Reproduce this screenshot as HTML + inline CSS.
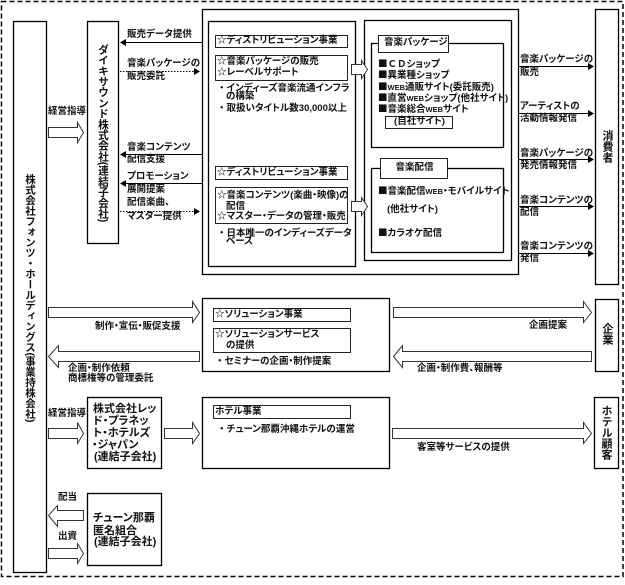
<!DOCTYPE html>
<html><head><meta charset="utf-8">
<style>
html,body{margin:0;padding:0;background:#fff;}
#p{position:relative;width:625px;height:585px;overflow:hidden;background:#fff;}
svg{position:absolute;left:0;top:0;}
.t{position:absolute;white-space:nowrap;font-size:9.5px;line-height:12px;font-family:"Liberation Sans","Noto Sans CJK JP",sans-serif;font-weight:bold;color:#111;font-feature-settings:"palt";}
.b{font-size:11px;}
.n{font-family:"Noto Sans CJK JP",sans-serif;font-feature-settings:normal;}
.w{font-size:7.5px;}
.c{text-align:center;}
.v{position:absolute;writing-mode:vertical-rl;white-space:nowrap;font-family:"Liberation Sans","Noto Sans CJK JP",sans-serif;font-weight:bold;color:#111;line-height:12px;width:12px;}
</style></head><body><div id="p">
<svg width="625" height="585" viewBox="0 0 625 585" xmlns="http://www.w3.org/2000/svg">
<rect x="1.5" y="1.5" width="621.5" height="575" fill="none" stroke="#000" stroke-width="1.5" stroke-dasharray="5 3"/>
<g fill="none" stroke="#000" stroke-width="1.3">
<rect x="13.5" y="21.5" width="33" height="551"/>
<rect x="87.5" y="21.5" width="31" height="222"/>
<rect x="202.5" y="9.5" width="316" height="265"/>
<rect x="208.5" y="21.5" width="147" height="245"/>
<rect x="364.5" y="20.5" width="147" height="240"/>
<rect x="371.5" y="43.5" width="132" height="104"/>
<rect x="371.5" y="168.5" width="132" height="84"/>
<rect x="595.5" y="9.5" width="23" height="275"/>
<rect x="202.5" y="298.5" width="187" height="73"/>
<rect x="595.5" y="299.5" width="23" height="72"/>
<rect x="87.5" y="397.5" width="74" height="71"/>
<rect x="202.5" y="397.5" width="187" height="71"/>
<rect x="594.5" y="397.5" width="24" height="71"/>
<rect x="87.5" y="493.5" width="74" height="72"/>
</g>
<g fill="#fff" stroke="#222" stroke-width="1">
<rect x="215.5" y="35.5" width="132" height="12"/>
<rect x="215.5" y="55.5" width="132" height="25"/>
<rect x="215.5" y="166.5" width="132" height="13"/>
<rect x="215.5" y="187.5" width="132" height="36"/>
<rect x="378.5" y="35.5" width="70" height="17"/>
<rect x="385.5" y="116.5" width="67" height="12"/>
<rect x="380.5" y="158.5" width="67" height="20"/>
<rect x="213.5" y="308.5" width="137" height="13"/>
<rect x="213.5" y="328.5" width="137" height="24"/>
<rect x="213.5" y="405.5" width="137" height="13"/>
</g>
<g stroke="#000" stroke-width="1" fill="none">
<line x1="202" y1="42.5" x2="125" y2="42.5"/>
<line x1="202" y1="154.5" x2="125" y2="154.5"/>
<line x1="202" y1="183.5" x2="125" y2="183.5"/>
<line x1="120" y1="71.5" x2="195" y2="71.5" stroke-dasharray="1.5 1.5"/>
<line x1="120" y1="211.5" x2="195" y2="211.5" stroke-dasharray="1.5 1.5"/>
<line x1="518" y1="66.5" x2="589" y2="66.5"/>
<line x1="518" y1="113.5" x2="589" y2="113.5"/>
<line x1="518" y1="159.5" x2="589" y2="159.5"/>
<line x1="518" y1="206.5" x2="589" y2="206.5"/>
<line x1="518" y1="253.5" x2="589" y2="253.5"/>
</g>
<g fill="#000">
<polygon points="120,42.5 126,39 126,46"/>
<polygon points="120,154.5 126,151 126,158"/>
<polygon points="120,183.5 126,180 126,187"/>
<polygon points="200,71.5 194,68 194,75"/>
<polygon points="200,211.5 194,208 194,215"/>
<polygon points="594,66.5 588,63 588,70"/>
<polygon points="594,113.5 588,110 588,117"/>
<polygon points="594,159.5 588,156 588,163"/>
<polygon points="594,206.5 588,203 588,210"/>
<polygon points="594,253.5 588,250 588,257"/>
</g>
<g fill="#fff" stroke="#333" stroke-width="1">
<path d="M48.5,127.5 H77.5 V122.5 L83.5,132.5 L77.5,142.5 V137.5 H48.5 Z"/>
<path d="M351.5,64.5 H361.5 V60.5 L367.5,69.5 L361.5,78.5 V74.5 H351.5 Z"/>
<path d="M351.5,201.5 H361.5 V197.5 L367.5,206.5 L361.5,215.5 V211.5 H351.5 Z"/>
<path d="M48.5,307.5 H192.5 V301.5 L199.5,312.5 L192.5,322.5 V317.5 H48.5 Z"/>
<path d="M199.5,351.5 H58.5 V345.5 L48.5,356.5 L58.5,367.5 V361.5 H199.5 Z"/>
<path d="M393.5,307.5 H583.5 V301.5 L591.5,312.5 L583.5,322.5 V317.5 H393.5 Z"/>
<path d="M591.5,351.5 H402.5 V345.5 L393.5,356.5 L402.5,367.5 V361.5 H591.5 Z"/>
<path d="M48.5,428.5 H77.5 V422.5 L83.5,433.5 L77.5,443.5 V438.5 H48.5 Z"/>
<path d="M164.5,428.5 H192.5 V422.5 L199.5,433.5 L192.5,443.5 V438.5 H164.5 Z"/>
<path d="M392.5,428.5 H583.5 V422.5 L591.5,433.5 L583.5,443.5 V438.5 H392.5 Z"/>
<path d="M83.5,510.5 H57.5 V505.5 L48.5,515.5 L57.5,526.5 V520.5 H83.5 Z"/>
<path d="M48.5,548.5 H77.5 V543.5 L83.5,553.5 L77.5,563.5 V558.5 H48.5 Z"/>
</g>
</svg>

<div class="v" style="left:24px;top:174px;font-size:10.5px;">株式会社フォンツ・ホールディングス(事業持株会社)</div>
<div class="v" style="left:97px;top:44px;font-size:10.7px;">ダイキサウンド株式会社(連結子会社)</div>
<div class="v" style="left:601px;top:130px;font-size:11px;">消費者</div>
<div class="v" style="left:601px;top:323px;font-size:11px;">企業</div>
<div class="v" style="left:600px;top:405px;font-size:11px;">ホテル顧客</div>

<div class="t" style="left:127px;top:29px;">販売データ提供</div>
<div class="t" style="left:127px;top:58px;">音楽パッケージの</div>
<div class="t" style="left:127px;top:71px;">販売委託</div>
<div class="t" style="left:127px;top:142px;">音楽コンテンツ</div>
<div class="t" style="left:127px;top:154px;">配信支援</div>
<div class="t" style="left:127px;top:171px;">プロモーション</div>
<div class="t" style="left:127px;top:184px;">展開提案</div>
<div class="t" style="left:127px;top:197px;">配信楽曲、</div>
<div class="t" style="left:127px;top:211px;">マスター提供</div>
<div class="t" style="left:48px;top:106px;">経営指導</div>

<div class="t" style="left:217px;top:35px;">☆ディストリビューション事業</div>
<div class="t" style="left:217px;top:56px;">☆音楽パッケージの販売</div>
<div class="t" style="left:217px;top:67px;">☆レーベルサポート</div>
<div class="t" style="left:217px;top:81px;"><span class="n">・</span>インディーズ音楽流通インフラ</div>
<div class="t" style="left:226px;top:91px;">の構築</div>
<div class="t" style="left:217px;top:101px;"><span class="n">・</span>取扱いタイトル数30,000以上</div>
<div class="t" style="left:217px;top:167px;">☆ディストリビューション事業</div>
<div class="t" style="left:217px;top:190px;">☆音楽コンテンツ(楽曲・映像)の</div>
<div class="t" style="left:226px;top:201px;">配信</div>
<div class="t" style="left:217px;top:211px;">☆マスター・データの管理・販売</div>
<div class="t" style="left:217px;top:226px;"><span class="n">・</span>日本唯一のインディーズデータ</div>
<div class="t" style="left:226px;top:236px;">ベース</div>

<div class="t" style="left:384px;top:37px;">音楽パッケージ</div>
<div class="t" style="left:378px;top:57px;"><span class="n">■ＣＤ</span>ショップ</div>
<div class="t" style="left:378px;top:68px;"><span class="n">■</span>異業種ショップ</div>
<div class="t" style="left:378px;top:80px;"><span class="n">■</span><span class="w">WEB</span>通販サイト(委託販売)</div>
<div class="t" style="left:378px;top:91px;"><span class="n">■</span>直営<span class="w">WEB</span>ショップ(他社サイト)</div>
<div class="t" style="left:378px;top:102px;"><span class="n">■</span>音楽総合<span class="w">WEB</span>サイト</div>
<div class="t c" style="left:386px;width:67px;top:116px;">(自社サイト)</div>
<div class="t c" style="left:381px;width:67px;top:162px;">音楽配信</div>
<div class="t" style="left:378px;top:184px;"><span class="n">■</span>音楽配信<span class="w">WEB</span>・モバイルサイト</div>
<div class="t" style="left:387px;top:204px;">(他社サイト)</div>
<div class="t" style="left:378px;top:226px;"><span class="n">■</span>カラオケ配信</div>

<div class="t" style="left:520px;top:54px;">音楽パッケージの</div>
<div class="t" style="left:520px;top:67px;">販売</div>
<div class="t" style="left:520px;top:101px;">アーティストの</div>
<div class="t" style="left:520px;top:113px;">活動情報発信</div>
<div class="t" style="left:520px;top:148px;">音楽パッケージの</div>
<div class="t" style="left:520px;top:160px;">発売情報発信</div>
<div class="t" style="left:520px;top:195px;">音楽コンテンツの</div>
<div class="t" style="left:520px;top:207px;">配信</div>
<div class="t" style="left:520px;top:241px;">音楽コンテンツの</div>
<div class="t" style="left:520px;top:253px;">発信</div>

<div class="t" style="left:215px;top:309px;">☆ソリューション事業</div>
<div class="t" style="left:215px;top:329px;">☆ソリューションサービス</div>
<div class="t" style="left:226px;top:340px;">の提供</div>
<div class="t" style="left:215px;top:354px;"><span class="n">・</span>セミナーの企画・制作提案</div>
<div class="t" style="left:95px;top:321px;">制作・宣伝・販促支援</div>
<div class="t" style="left:68px;top:363px;">企画・制作依頼</div>
<div class="t" style="left:68px;top:373px;">商標権等の管理委託</div>
<div class="t" style="left:529px;top:320px;">企画提案</div>
<div class="t" style="left:417px;top:363px;">企画・制作費、報酬等</div>

<div class="t" style="left:48px;top:408px;">経営指導</div>
<div class="t b" style="left:93px;top:403px;">株式会社レッ</div>
<div class="t b" style="left:93px;top:415px;">ド・プラネッ</div>
<div class="t b" style="left:93px;top:427px;">ト・ホテルズ</div>
<div class="t b" style="left:92px;top:439px;">・ジャパン</div>
<div class="t b" style="left:94px;top:451px;">(連結子会社)</div>
<div class="t" style="left:215px;top:406px;">ホテル事業</div>
<div class="t" style="left:217px;top:422px;"><span class="n">・</span>チューン那覇沖縄ホテルの運営</div>
<div class="t" style="left:417px;top:442px;">客室等サービスの提供</div>

<div class="t" style="left:58px;top:492px;">配当</div>
<div class="t" style="left:58px;top:531px;">出資</div>
<div class="t b" style="left:93px;top:512px;">チューン那覇</div>
<div class="t b" style="left:93px;top:525px;">匿名組合</div>
<div class="t b" style="left:94px;top:536px;">(連結子会社)</div>
</div></body></html>
